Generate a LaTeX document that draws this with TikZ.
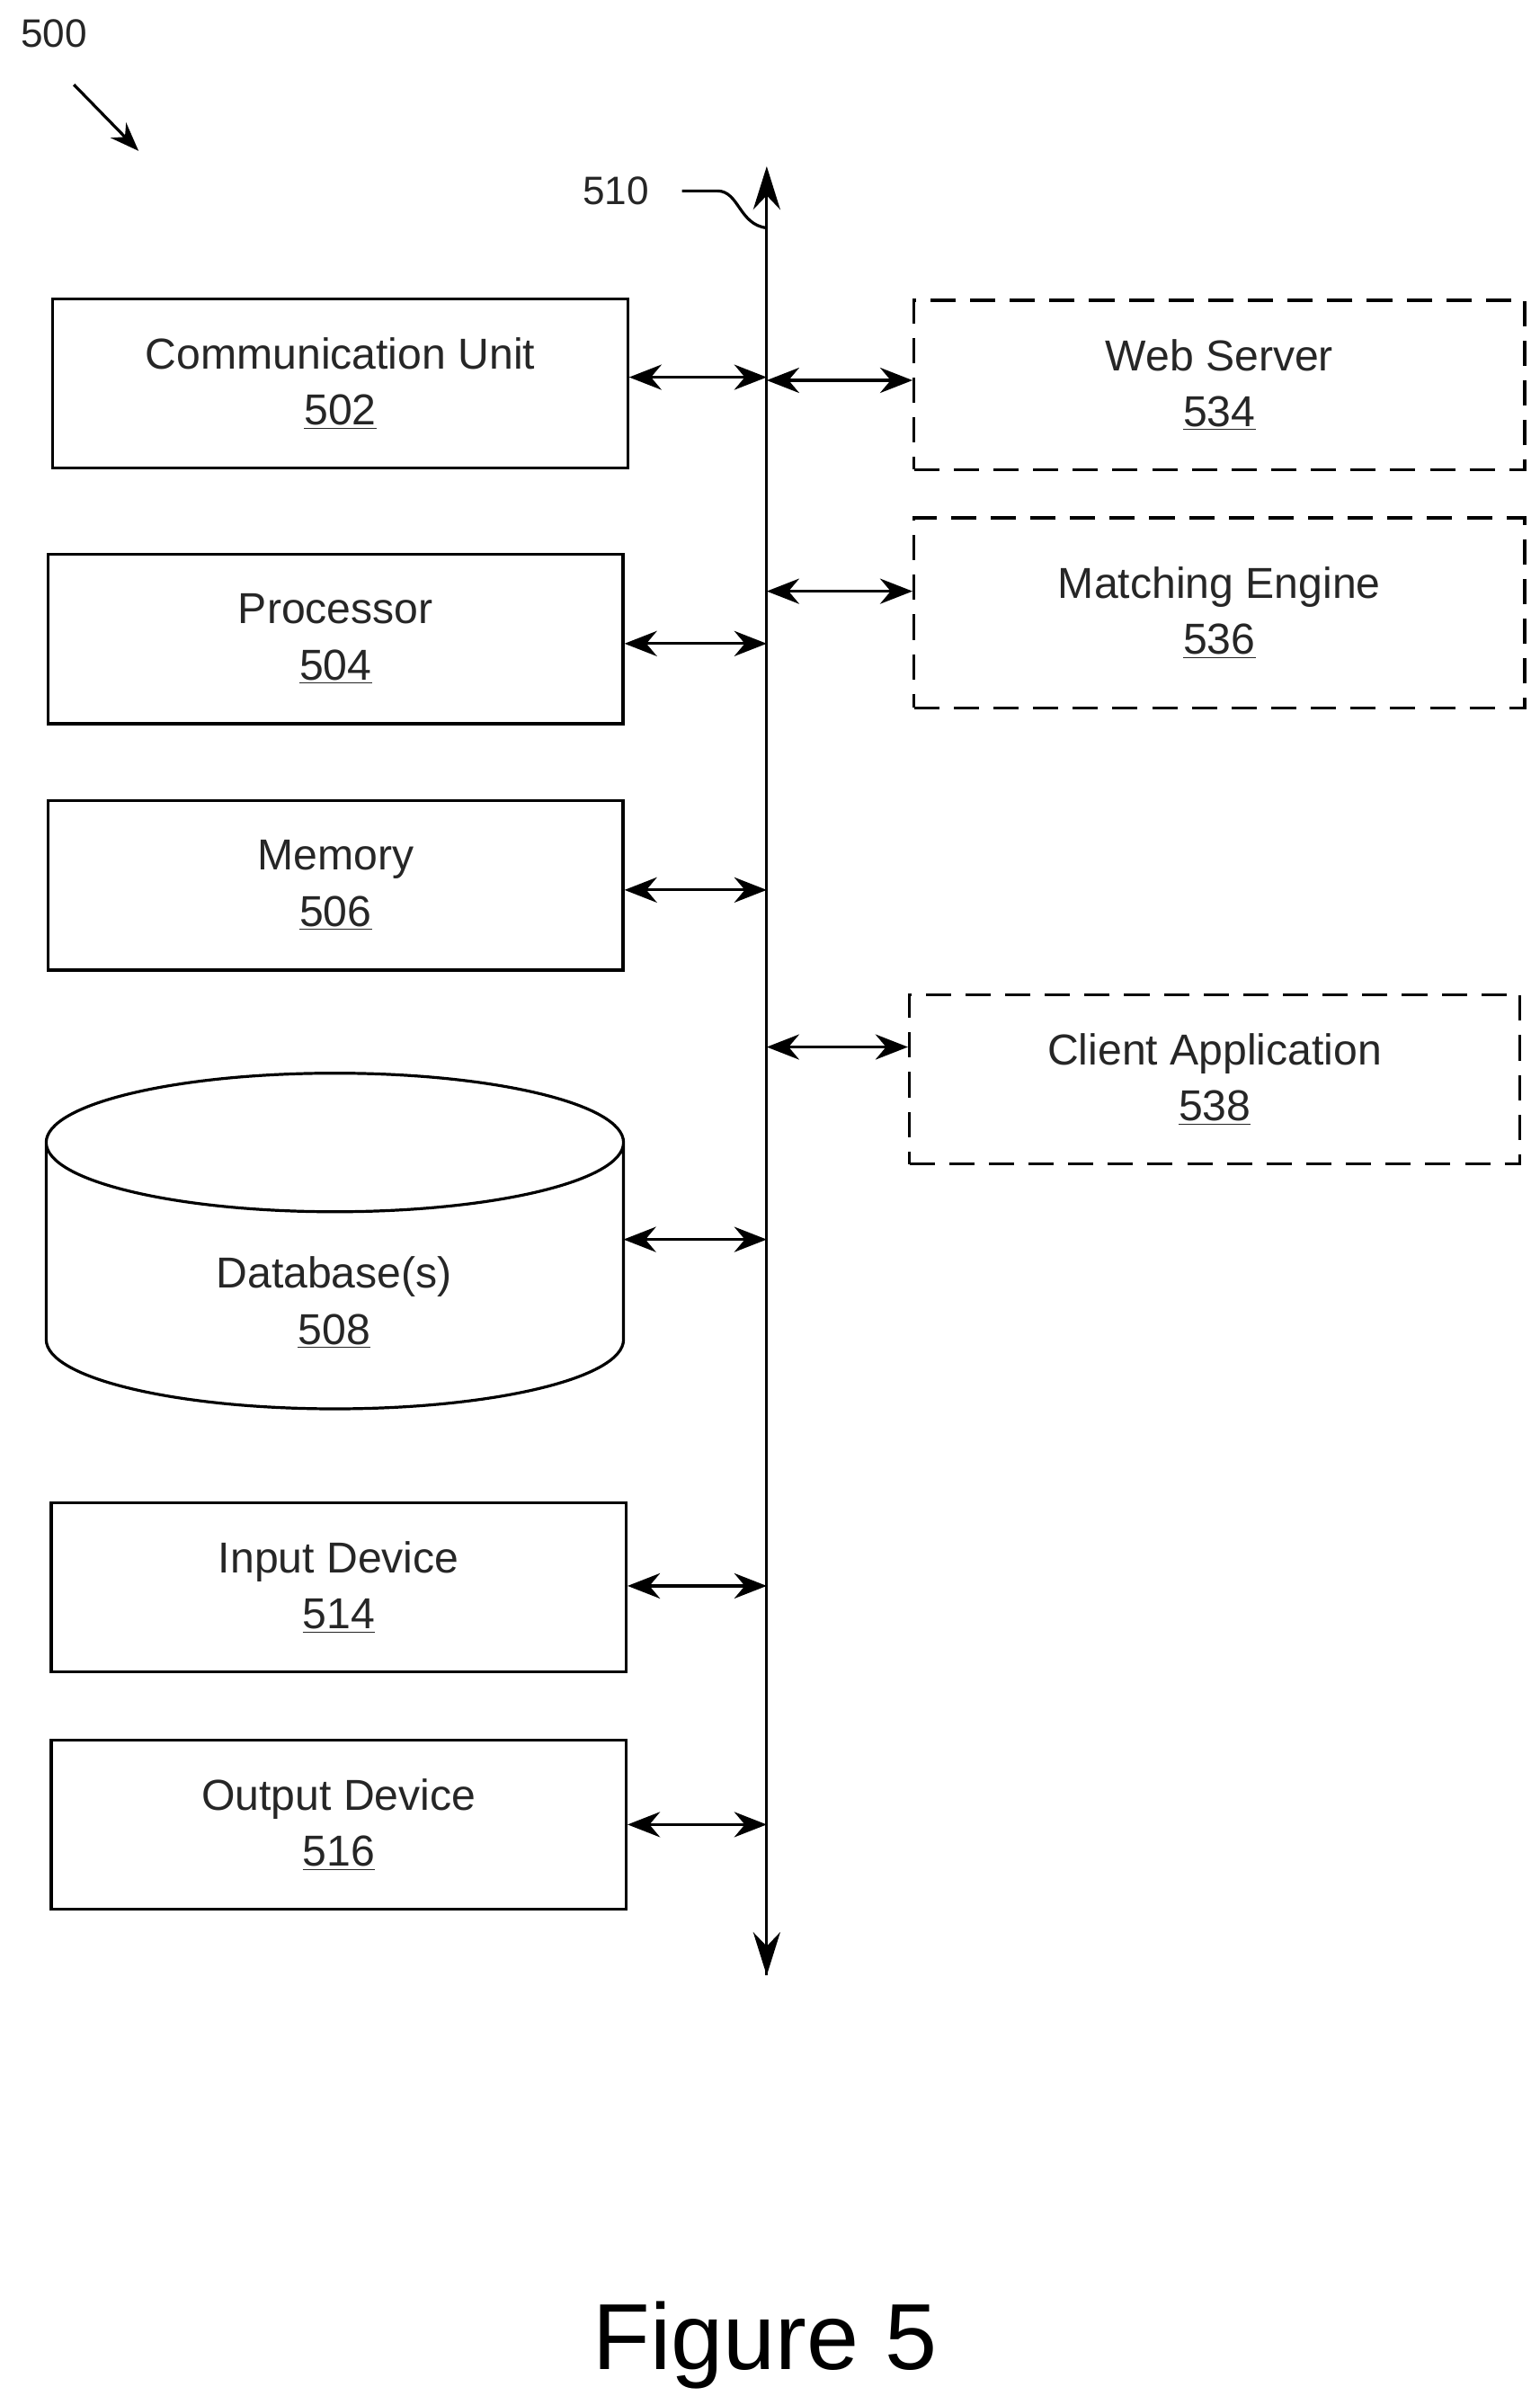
\documentclass[tikz,border=0pt]{standalone}
\usepackage{fontspec}
\setmainfont{Liberation Sans}
\usetikzlibrary{positioning,arrows.meta}
\tikzset{
  % box styles
  base/.style = {
    rectangle,
    draw=black,
    line width=1.6pt,
    align=center,
    font=\fontsize{24}{31}\selectfont,
    text=black!85
  },
  unit/.style = {
    base,
    minimum width=11.2cm,
    minimum height=3.3cm
  },
  remote/.style = {
    base,
    dash pattern=on 14pt off 8pt,
    minimum width=11.9cm,
    minimum height=3.3cm
  },
  link/.style = {
    {Stealth[length=18pt,width=14pt]}-{Stealth[length=18pt,width=14pt]},
    line width=1.6pt
  },
}
\def\lbl#1#2{#1\\\underline{#2}}
\begin{document}
\begin{tikzpicture}[x=0.03cm,y=-0.03cm]
    \useasboundingbox (0,0) rectangle (1000,1562);
    % bus
    \coordinate (bustop) at (498,108);
    \coordinate (busbot) at (498,1283);
    \draw[line width=1.6pt, -{Stealth[length=24pt,width=15pt]}] (busbot) -- (bustop);
    \draw[line width=1.6pt, {Stealth[length=24pt,width=15pt]}-] (busbot) -- (498,1200);
    % local units
    \node[unit] (comm)   at (221,249)  {\lbl{Communication Unit}{502}};
    \node[unit] (proc)   at (218,415)  {\lbl{Processor}{504}};
    \node[unit] (mem)    at (218,575)  {\lbl{Memory}{506}};
    \node[unit] (input)  at (220,1031) {\lbl{Input Device}{514}};
    \node[unit] (output) at (220,1185) {\lbl{Output Device}{516}};
    % database cylinder
    \draw[line width=1.6pt] (30,742) -- (30,870) arc[start angle=180,end angle=0,x radius=187.5,y radius=45]
      -- (405,742) arc[start angle=0,end angle=180,x radius=187.5,y radius=45]
      arc[start angle=180,end angle=360,x radius=187.5,y radius=45];
    \node[base, draw=none] (db) at (217,846) {\lbl{Database(s)}{508}};
    \coordinate (dbeast) at (405,805);
    % remote units
    \node[remote] (web)    at (792,250) {\lbl{Web Server}{534}};
    \node[remote, minimum height=3.7cm] (match) at (792,398) {\lbl{Matching Engine}{536}};
    \node[remote] (client) at (789,701) {\lbl{Client Application}{538}};
    % connections
    \draw[link] (comm.east |- 0,245) -- (498,245);
    \draw[link] (proc.east |- 0,418) -- (498,418);
    \draw[link] (mem.east |- 0,578) -- (498,578);
    \draw[link] (dbeast) -- (498,805);
    \draw[link] (input.east |- 0,1030) -- (498,1030);
    \draw[link] (output.east |- 0,1185) -- (498,1185);
    \draw[link] (498,247) -- (web.west |- 0,247);
    \draw[link] (498,384) -- (match.west |- 0,384);
    \draw[link] (498,680) -- (client.west |- 0,680);
    % reference labels
    \node[font=\fontsize{22}{26}\selectfont, text=black!85] (n510) at (400,124) {510};
    \draw[line width=1.6pt] (443,124) -- (466,124) .. controls (480,124) and (480,146) .. (498,148);
    \node[font=\fontsize{22}{26}\selectfont, text=black!85] (n500) at (35,22) {500};
    \draw[line width=1.6pt, -{Stealth[length=16pt,width=12pt]}] (48,55) -- (90,98);
    \node[font=\fontsize{52}{60}\selectfont] (fig) at (497,1523) {Figure 5};
\end{tikzpicture}
\end{document}
